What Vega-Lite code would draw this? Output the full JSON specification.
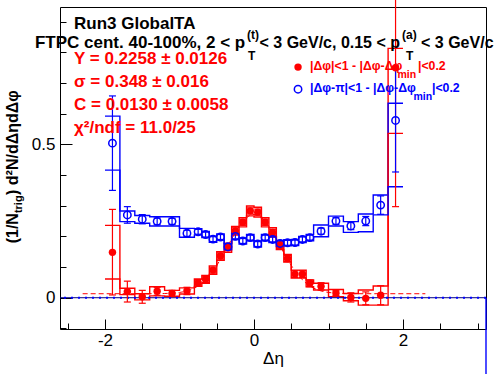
{
  "$schema": "https://vega.github.io/schema/vega-lite/v6.json",
  "width": 426,
  "height": 322,
  "autosize": {"type": "none"},
  "padding": {"left": 60, "top": 7, "right": 10, "bottom": 45},
  "background": "white",
  "config": {"view": {"stroke": "black", "strokeWidth": 1}, "font": "Liberation Sans"},
  "resolve": {"axis": {"x": "independent", "y": "independent"}},
  "datasets": {
    "points": [
      {"s": "same", "x": -1.9, "y": 0.148, "elo": 0.009, "ehi": 0.288},
      {"s": "same", "x": -1.7, "y": 0.020, "elo": -0.014, "ehi": 0.054},
      {"s": "same", "x": -1.5, "y": 0.003, "elo": -0.018, "ehi": 0.024},
      {"s": "same", "x": -1.3, "y": 0.021, "elo": 0.008, "ehi": 0.034},
      {"s": "same", "x": -1.1, "y": 0.014, "elo": 0.004, "ehi": 0.024},
      {"s": "same", "x": -0.9, "y": 0.022, "elo": 0.010, "ehi": 0.034},
      {"s": "same", "x": -0.75, "y": 0.049, "elo": 0.039, "ehi": 0.059},
      {"s": "same", "x": -0.65, "y": 0.060, "elo": 0.050, "ehi": 0.070},
      {"s": "same", "x": -0.55, "y": 0.090, "elo": 0.080, "ehi": 0.100},
      {"s": "same", "x": -0.45, "y": 0.136, "elo": 0.126, "ehi": 0.146},
      {"s": "same", "x": -0.35, "y": 0.163, "elo": 0.153, "ehi": 0.173},
      {"s": "same", "x": -0.25, "y": 0.218, "elo": 0.208, "ehi": 0.228},
      {"s": "same", "x": -0.15, "y": 0.246, "elo": 0.236, "ehi": 0.256},
      {"s": "same", "x": -0.05, "y": 0.283, "elo": 0.273, "ehi": 0.293},
      {"s": "same", "x": 0.05, "y": 0.279, "elo": 0.269, "ehi": 0.289},
      {"s": "same", "x": 0.15, "y": 0.246, "elo": 0.236, "ehi": 0.256},
      {"s": "same", "x": 0.25, "y": 0.213, "elo": 0.203, "ehi": 0.223},
      {"s": "same", "x": 0.35, "y": 0.171, "elo": 0.161, "ehi": 0.181},
      {"s": "same", "x": 0.45, "y": 0.128, "elo": 0.118, "ehi": 0.138},
      {"s": "same", "x": 0.55, "y": 0.077, "elo": 0.066, "ehi": 0.088},
      {"s": "same", "x": 0.65, "y": 0.077, "elo": 0.066, "ehi": 0.088},
      {"s": "same", "x": 0.75, "y": 0.047, "elo": 0.036, "ehi": 0.058},
      {"s": "same", "x": 0.9, "y": 0.037, "elo": 0.025, "ehi": 0.049},
      {"s": "same", "x": 1.1, "y": 0.015, "elo": 0.007, "ehi": 0.023},
      {"s": "same", "x": 1.3, "y": 0.001, "elo": -0.014, "ehi": 0.016},
      {"s": "same", "x": 1.5, "y": -0.002, "elo": -0.023, "ehi": 0.019},
      {"s": "same", "x": 1.7, "y": 0.008, "elo": -0.023, "ehi": 0.039},
      {"s": "same", "x": 1.9, "y": 0.750, "elo": 0.297, "ehi": 1.203},
      {"s": "opp", "x": -1.9, "y": 0.504, "elo": 0.350, "ehi": 0.658},
      {"s": "opp", "x": -1.7, "y": 0.270, "elo": 0.243, "ehi": 0.297},
      {"s": "opp", "x": -1.5, "y": 0.256, "elo": 0.241, "ehi": 0.271},
      {"s": "opp", "x": -1.3, "y": 0.249, "elo": 0.238, "ehi": 0.260},
      {"s": "opp", "x": -1.1, "y": 0.249, "elo": 0.239, "ehi": 0.259},
      {"s": "opp", "x": -0.9, "y": 0.210, "elo": 0.200, "ehi": 0.220},
      {"s": "opp", "x": -0.75, "y": 0.215, "elo": 0.207, "ehi": 0.223},
      {"s": "opp", "x": -0.65, "y": 0.206, "elo": 0.198, "ehi": 0.214},
      {"s": "opp", "x": -0.55, "y": 0.191, "elo": 0.183, "ehi": 0.199},
      {"s": "opp", "x": -0.45, "y": 0.198, "elo": 0.190, "ehi": 0.206},
      {"s": "opp", "x": -0.35, "y": 0.166, "elo": 0.158, "ehi": 0.174},
      {"s": "opp", "x": -0.25, "y": 0.200, "elo": 0.192, "ehi": 0.208},
      {"s": "opp", "x": -0.15, "y": 0.185, "elo": 0.177, "ehi": 0.193},
      {"s": "opp", "x": -0.05, "y": 0.196, "elo": 0.188, "ehi": 0.204},
      {"s": "opp", "x": 0.05, "y": 0.175, "elo": 0.167, "ehi": 0.183},
      {"s": "opp", "x": 0.15, "y": 0.196, "elo": 0.188, "ehi": 0.204},
      {"s": "opp", "x": 0.25, "y": 0.190, "elo": 0.182, "ehi": 0.198},
      {"s": "opp", "x": 0.35, "y": 0.177, "elo": 0.169, "ehi": 0.185},
      {"s": "opp", "x": 0.45, "y": 0.179, "elo": 0.171, "ehi": 0.187},
      {"s": "opp", "x": 0.55, "y": 0.180, "elo": 0.172, "ehi": 0.188},
      {"s": "opp", "x": 0.65, "y": 0.190, "elo": 0.182, "ehi": 0.198},
      {"s": "opp", "x": 0.75, "y": 0.196, "elo": 0.188, "ehi": 0.204},
      {"s": "opp", "x": 0.9, "y": 0.217, "elo": 0.207, "ehi": 0.227},
      {"s": "opp", "x": 1.1, "y": 0.250, "elo": 0.239, "ehi": 0.261},
      {"s": "opp", "x": 1.3, "y": 0.234, "elo": 0.222, "ehi": 0.246},
      {"s": "opp", "x": 1.5, "y": 0.250, "elo": 0.235, "ehi": 0.265},
      {"s": "opp", "x": 1.7, "y": 0.302, "elo": 0.272, "ehi": 0.332},
      {"s": "opp", "x": 1.9, "y": 0.578, "elo": 0.410, "ehi": 0.746}
    ],
    "syst": [
      {"s": "same", "edge": -2.0, "lo": 0.061, "hi": 0.236},
      {"s": "same", "edge": -1.8, "lo": 0.010, "hi": 0.031},
      {"s": "same", "edge": -1.6, "lo": -0.007, "hi": 0.013},
      {"s": "same", "edge": -1.4, "lo": 0.006, "hi": 0.036},
      {"s": "same", "edge": -1.2, "lo": 0.005, "hi": 0.024},
      {"s": "same", "edge": -1.0, "lo": 0.012, "hi": 0.032},
      {"s": "same", "edge": -0.8, "lo": 0.037, "hi": 0.061},
      {"s": "same", "edge": -0.7, "lo": 0.047, "hi": 0.073},
      {"s": "same", "edge": -0.6, "lo": 0.076, "hi": 0.104},
      {"s": "same", "edge": -0.5, "lo": 0.122, "hi": 0.150},
      {"s": "same", "edge": -0.4, "lo": 0.148, "hi": 0.178},
      {"s": "same", "edge": -0.3, "lo": 0.204, "hi": 0.232},
      {"s": "same", "edge": -0.2, "lo": 0.231, "hi": 0.261},
      {"s": "same", "edge": -0.1, "lo": 0.267, "hi": 0.299},
      {"s": "same", "edge": 0.0, "lo": 0.263, "hi": 0.295},
      {"s": "same", "edge": 0.1, "lo": 0.231, "hi": 0.261},
      {"s": "same", "edge": 0.2, "lo": 0.198, "hi": 0.228},
      {"s": "same", "edge": 0.3, "lo": 0.157, "hi": 0.185},
      {"s": "same", "edge": 0.4, "lo": 0.116, "hi": 0.141},
      {"s": "same", "edge": 0.5, "lo": 0.064, "hi": 0.090},
      {"s": "same", "edge": 0.6, "lo": 0.064, "hi": 0.090},
      {"s": "same", "edge": 0.7, "lo": 0.036, "hi": 0.058},
      {"s": "same", "edge": 0.8, "lo": 0.025, "hi": 0.047},
      {"s": "same", "edge": 1.0, "lo": 0.003, "hi": 0.027},
      {"s": "same", "edge": 1.2, "lo": -0.010, "hi": 0.014},
      {"s": "same", "edge": 1.4, "lo": -0.024, "hi": 0.025},
      {"s": "same", "edge": 1.6, "lo": -0.024, "hi": 0.038},
      {"s": "same", "edge": 1.8, "lo": 0.536, "hi": 0.813},
      {"s": "same", "edge": 2.0, "lo": 0.536, "hi": 0.813},
      {"s": "opp", "edge": -2.0, "lo": 0.416, "hi": 0.592},
      {"s": "opp", "edge": -1.8, "lo": 0.248, "hi": 0.283},
      {"s": "opp", "edge": -1.6, "lo": 0.243, "hi": 0.268},
      {"s": "opp", "edge": -1.4, "lo": 0.234, "hi": 0.264},
      {"s": "opp", "edge": -1.2, "lo": 0.234, "hi": 0.264},
      {"s": "opp", "edge": -1.0, "lo": 0.197, "hi": 0.226},
      {"s": "opp", "edge": -0.8, "lo": 0.205, "hi": 0.225},
      {"s": "opp", "edge": -0.7, "lo": 0.196, "hi": 0.216},
      {"s": "opp", "edge": -0.6, "lo": 0.181, "hi": 0.201},
      {"s": "opp", "edge": -0.5, "lo": 0.188, "hi": 0.208},
      {"s": "opp", "edge": -0.4, "lo": 0.156, "hi": 0.176},
      {"s": "opp", "edge": -0.3, "lo": 0.190, "hi": 0.210},
      {"s": "opp", "edge": -0.2, "lo": 0.175, "hi": 0.195},
      {"s": "opp", "edge": -0.1, "lo": 0.186, "hi": 0.206},
      {"s": "opp", "edge": 0.0, "lo": 0.165, "hi": 0.185},
      {"s": "opp", "edge": 0.1, "lo": 0.186, "hi": 0.206},
      {"s": "opp", "edge": 0.2, "lo": 0.180, "hi": 0.200},
      {"s": "opp", "edge": 0.3, "lo": 0.167, "hi": 0.187},
      {"s": "opp", "edge": 0.4, "lo": 0.169, "hi": 0.189},
      {"s": "opp", "edge": 0.5, "lo": 0.170, "hi": 0.190},
      {"s": "opp", "edge": 0.6, "lo": 0.180, "hi": 0.200},
      {"s": "opp", "edge": 0.7, "lo": 0.186, "hi": 0.206},
      {"s": "opp", "edge": 0.8, "lo": 0.199, "hi": 0.237},
      {"s": "opp", "edge": 1.0, "lo": 0.234, "hi": 0.266},
      {"s": "opp", "edge": 1.2, "lo": 0.213, "hi": 0.248},
      {"s": "opp", "edge": 1.4, "lo": 0.215, "hi": 0.273},
      {"s": "opp", "edge": 1.6, "lo": 0.270, "hi": 0.335},
      {"s": "opp", "edge": 1.8, "lo": 0.362, "hi": 0.634},
      {"s": "opp", "edge": 2.0, "lo": 0.362, "hi": 0.634}
    ],
    "fit": [
      {"x": -2.3, "y": 0.0130}, {"x": -1.4, "y": 0.0131}, {"x": -1.2, "y": 0.0137}, {"x": -1.1, "y": 0.0148},
      {"x": -1.0, "y": 0.0172}, {"x": -0.95, "y": 0.0192}, {"x": -0.9, "y": 0.0221}, {"x": -0.85, "y": 0.0261},
      {"x": -0.8, "y": 0.0314}, {"x": -0.75, "y": 0.0384}, {"x": -0.7, "y": 0.0472}, {"x": -0.65, "y": 0.0583},
      {"x": -0.6, "y": 0.0716}, {"x": -0.55, "y": 0.0872}, {"x": -0.5, "y": 0.1052}, {"x": -0.45, "y": 0.1252},
      {"x": -0.4, "y": 0.1467}, {"x": -0.35, "y": 0.1691}, {"x": -0.3, "y": 0.1915}, {"x": -0.25, "y": 0.2130},
      {"x": -0.2, "y": 0.2325}, {"x": -0.15, "y": 0.2489}, {"x": -0.1, "y": 0.2614}, {"x": -0.05, "y": 0.2692},
      {"x": 0.0, "y": 0.2719},
      {"x": 0.05, "y": 0.2692}, {"x": 0.1, "y": 0.2614}, {"x": 0.15, "y": 0.2489}, {"x": 0.2, "y": 0.2325},
      {"x": 0.25, "y": 0.2130}, {"x": 0.3, "y": 0.1915}, {"x": 0.35, "y": 0.1691}, {"x": 0.4, "y": 0.1467},
      {"x": 0.45, "y": 0.1252}, {"x": 0.5, "y": 0.1052}, {"x": 0.55, "y": 0.0872}, {"x": 0.6, "y": 0.0716},
      {"x": 0.65, "y": 0.0583}, {"x": 0.7, "y": 0.0472}, {"x": 0.75, "y": 0.0384}, {"x": 0.8, "y": 0.0314},
      {"x": 0.85, "y": 0.0261}, {"x": 0.9, "y": 0.0221}, {"x": 0.95, "y": 0.0192}, {"x": 1.0, "y": 0.0172},
      {"x": 1.1, "y": 0.0148}, {"x": 1.2, "y": 0.0137}, {"x": 1.4, "y": 0.0131}, {"x": 2.3, "y": 0.0130}
    ],
    "legpts": [
      {"s": "same", "x": 0.591, "y": 0.752},
      {"s": "opp", "x": 0.591, "y": 0.680}
    ],
    "labels": [
      {"role": "head", "x": -2.416, "y": 0.876, "t": "Run3 GlobalTA"},
      {"role": "head", "x": -2.94, "y": 0.814, "t": "FTPC cent. 40-100%, 2 < p"},
      {"role": "headr", "x": 1.96, "y": 0.814, "t": "< 3 GeV/c, 0.15 < p"},
      {"role": "headb", "x": 2.242, "y": 0.814, "t": "< 3 GeV/c"},
      {"role": "hsub", "x": -0.094, "y": 0.843, "t": "(t)"},
      {"role": "hsub", "x": -0.081, "y": 0.775, "t": "T"},
      {"role": "hsub", "x": 1.987, "y": 0.843, "t": "(a)"},
      {"role": "hsub", "x": 2.04, "y": 0.775, "t": "T"},
      {"role": "stat", "x": -2.416, "y": 0.762, "t": "Y = 0.2258 ± 0.0126"},
      {"role": "stat", "x": -2.416, "y": 0.687, "t": "σ = 0.348 ± 0.016"},
      {"role": "stat", "x": -2.416, "y": 0.612, "t": "C = 0.0130 ± 0.0058"},
      {"role": "stat", "x": -2.416, "y": 0.537, "t": "χ²/ndf = 11.0/25"},
      {"role": "legr", "x": 0.752, "y": 0.742, "t": "|Δφ|<1 - |Δφ-Δφ"},
      {"role": "legr", "x": 2.201, "y": 0.742, "t": "|<0.2"},
      {"role": "legb", "x": 0.752, "y": 0.670, "t": "|Δφ-π|<1 - |Δφ-Δφ"},
      {"role": "legb", "x": 2.389, "y": 0.670, "t": "|<0.2"},
      {"role": "lsubr", "x": 1.925, "y": 0.716, "t": "min"},
      {"role": "lsubb", "x": 2.14, "y": 0.644, "t": "min"},
      {"role": "ytr", "x": -3.168, "y": 0.276, "t": "(1/N"},
      {"role": "yts", "x": -3.114, "y": 0.276, "t": "trig"},
      {"role": "ytl", "x": -3.168, "y": 0.335, "t": ") d²N/dΔηdΔφ"}
    ]
  },
  "layer": [
    {
      "data": {"name": "syst"},
      "mark": {"type": "line", "interpolate": "step-after", "strokeWidth": 1.4},
      "encoding": {
        "x": {"field": "edge", "type": "quantitative", "scale": {"domain": [-2.604, 3.114], "nice": false, "zero": false},
              "axis": {"orient": "bottom", "values": [-2.5, -2, -1.5, -1, -0.5, 0, 0.5, 1, 1.5, 2, 2.5, 3], "tickSize": -6, "tickColor": "black", "labels": false, "domain": false, "grid": false, "title": null}},
        "y": {"field": "hi", "type": "quantitative", "scale": {"domain": [-0.102, 0.948], "nice": false, "zero": false},
              "axis": {"orient": "left", "values": [-0.1, 0, 0.1, 0.2, 0.3, 0.4, 0.5, 0.6, 0.7, 0.8, 0.9], "tickSize": -6, "tickColor": "black", "labels": false, "domain": false, "grid": false, "title": null}},
        "color": {"field": "s", "type": "nominal", "scale": {"domain": ["same", "opp"], "range": ["#ff0000", "#0000ff"]}, "legend": null}
      }
    },
    {
      "data": {"name": "syst"},
      "mark": {"type": "line", "interpolate": "step-after", "strokeWidth": 1.4},
      "encoding": {
        "x": {"field": "edge", "type": "quantitative", "scale": {"domain": [-2.604, 3.114], "nice": false, "zero": false}, "axis": null},
        "y": {"field": "lo", "type": "quantitative", "scale": {"domain": [-0.102, 0.948], "nice": false, "zero": false}, "axis": null},
        "color": {"field": "s", "type": "nominal", "scale": {"domain": ["same", "opp"], "range": ["#ff0000", "#0000ff"]}, "legend": null}
      }
    },
    {
      "data": {"name": "fit"},
      "mark": {"type": "line", "color": "#ff0000", "strokeWidth": 1, "strokeDash": [5, 3]},
      "encoding": {
        "x": {"field": "x", "type": "quantitative", "scale": {"domain": [-2.604, 3.114], "nice": false, "zero": false},
              "axis": {"orient": "bottom", "values": [-2, 0, 2], "tickSize": -10, "tickColor": "black", "labelPadding": 13, "labelFont": "Liberation Sans", "labelFontSize": 17, "labelColor": "black", "labelFlush": false, "labelOverlap": false, "format": "~g", "labelExpr": "replace(datum.label, '−', '-')", "domain": false, "grid": false, "title": "Δη", "titleFont": "Liberation Sans", "titleFontSize": 17, "titleFontWeight": "normal", "titleColor": "black", "titlePadding": 2}},
        "y": {"field": "y", "type": "quantitative", "scale": {"domain": [-0.102, 0.948], "nice": false, "zero": false},
              "axis": {"orient": "left", "values": [0, 0.5], "tickSize": -12, "tickColor": "black", "labelPadding": 17, "labelFont": "Liberation Sans", "labelFontSize": 17, "labelColor": "black", "labelFlush": false, "labelOverlap": false, "format": "~g", "domain": false, "grid": false, "title": null}}
      }
    },
    {
      "data": {"values": [{}]},
      "mark": {"type": "rule", "color": "#000080", "strokeWidth": 1},
      "encoding": {"y": {"datum": 0, "type": "quantitative", "scale": {"domain": [-0.102, 0.948], "nice": false, "zero": false}, "axis": null}}
    },
    {
      "data": {"values": [{}]},
      "mark": {"type": "rule", "color": "#0000ff", "strokeWidth": 2, "strokeDash": [2, 5]},
      "encoding": {"y": {"datum": 0, "type": "quantitative", "scale": {"domain": [-0.102, 0.948], "nice": false, "zero": false}, "axis": null}}
    },
    {
      "data": {"values": [{}]},
      "mark": {"type": "rule", "color": "#0000ff", "strokeWidth": 1.4},
      "encoding": {
        "x": {"datum": 3.114, "type": "quantitative", "scale": {"domain": [-2.604, 3.114], "nice": false, "zero": false}, "axis": null},
        "y": {"datum": 0, "type": "quantitative", "scale": {"domain": [-0.102, 0.948], "nice": false, "zero": false}, "axis": null},
        "y2": {"datum": -0.25}
      }
    },
    {
      "data": {"name": "points"},
      "mark": {"type": "rule", "strokeWidth": 1.2},
      "encoding": {
        "x": {"field": "x", "type": "quantitative", "scale": {"domain": [-2.604, 3.114], "nice": false, "zero": false}, "axis": null},
        "y": {"field": "elo", "type": "quantitative", "scale": {"domain": [-0.102, 0.948], "nice": false, "zero": false}, "axis": null},
        "y2": {"field": "ehi"},
        "color": {"field": "s", "type": "nominal", "scale": {"domain": ["same", "opp"], "range": ["#ff0000", "#0000ff"]}, "legend": null}
      }
    },
    {
      "data": {"name": "points"},
      "mark": {"type": "tick", "orient": "horizontal", "size": 7, "thickness": 1.2, "opacity": 1},
      "encoding": {
        "x": {"field": "x", "type": "quantitative", "scale": {"domain": [-2.604, 3.114], "nice": false, "zero": false}, "axis": null},
        "y": {"field": "elo", "type": "quantitative", "scale": {"domain": [-0.102, 0.948], "nice": false, "zero": false}, "axis": null},
        "color": {"field": "s", "type": "nominal", "scale": {"domain": ["same", "opp"], "range": ["#ff0000", "#0000ff"]}, "legend": null}
      }
    },
    {
      "data": {"name": "points"},
      "mark": {"type": "tick", "orient": "horizontal", "size": 7, "thickness": 1.2, "opacity": 1},
      "encoding": {
        "x": {"field": "x", "type": "quantitative", "scale": {"domain": [-2.604, 3.114], "nice": false, "zero": false}, "axis": null},
        "y": {"field": "ehi", "type": "quantitative", "scale": {"domain": [-0.102, 0.948], "nice": false, "zero": false}, "axis": null},
        "color": {"field": "s", "type": "nominal", "scale": {"domain": ["same", "opp"], "range": ["#ff0000", "#0000ff"]}, "legend": null}
      }
    },
    {
      "data": {"name": "points"},
      "transform": [{"filter": "datum.s === 'same'"}],
      "mark": {"type": "point", "shape": "circle", "filled": true, "size": 55, "color": "#ff0000", "opacity": 1},
      "encoding": {
        "x": {"field": "x", "type": "quantitative", "scale": {"domain": [-2.604, 3.114], "nice": false, "zero": false}, "axis": null},
        "y": {"field": "y", "type": "quantitative", "scale": {"domain": [-0.102, 0.948], "nice": false, "zero": false}, "axis": null}
      }
    },
    {
      "data": {"name": "points"},
      "transform": [{"filter": "datum.s === 'opp'"}],
      "mark": {"type": "point", "shape": "circle", "filled": false, "size": 55, "color": "#0000ff", "strokeWidth": 1.5, "opacity": 1},
      "encoding": {
        "x": {"field": "x", "type": "quantitative", "scale": {"domain": [-2.604, 3.114], "nice": false, "zero": false}, "axis": null},
        "y": {"field": "y", "type": "quantitative", "scale": {"domain": [-0.102, 0.948], "nice": false, "zero": false}, "axis": null}
      }
    },
    {
      "data": {"name": "legpts"},
      "transform": [{"filter": "datum.s === 'same'"}],
      "mark": {"type": "point", "shape": "circle", "filled": true, "size": 55, "color": "#ff0000", "opacity": 1},
      "encoding": {
        "x": {"field": "x", "type": "quantitative", "scale": {"domain": [-2.604, 3.114], "nice": false, "zero": false}, "axis": null},
        "y": {"field": "y", "type": "quantitative", "scale": {"domain": [-0.102, 0.948], "nice": false, "zero": false}, "axis": null}
      }
    },
    {
      "data": {"name": "legpts"},
      "transform": [{"filter": "datum.s === 'opp'"}],
      "mark": {"type": "point", "shape": "circle", "filled": false, "size": 55, "color": "#0000ff", "strokeWidth": 1.5, "opacity": 1},
      "encoding": {
        "x": {"field": "x", "type": "quantitative", "scale": {"domain": [-2.604, 3.114], "nice": false, "zero": false}, "axis": null},
        "y": {"field": "y", "type": "quantitative", "scale": {"domain": [-0.102, 0.948], "nice": false, "zero": false}, "axis": null}
      }
    },
    {
      "data": {"name": "labels"},
      "transform": [{"filter": "datum.role === 'head'"}],
      "mark": {"type": "text", "font": "Liberation Sans", "fontWeight": "bold", "fontSize": 17, "align": "left", "baseline": "alphabetic", "color": "black"},
      "encoding": {
        "x": {"field": "x", "type": "quantitative", "scale": {"domain": [-2.604, 3.114], "nice": false, "zero": false}, "axis": null},
        "y": {"field": "y", "type": "quantitative", "scale": {"domain": [-0.102, 0.948], "nice": false, "zero": false}, "axis": null},
        "text": {"field": "t"}
      }
    },
    {
      "data": {"name": "labels"},
      "transform": [{"filter": "datum.role === 'headr'"}],
      "mark": {"type": "text", "font": "Liberation Sans", "fontWeight": "bold", "fontSize": 16, "align": "right", "baseline": "alphabetic", "color": "black"},
      "encoding": {
        "x": {"field": "x", "type": "quantitative", "scale": {"domain": [-2.604, 3.114], "nice": false, "zero": false}, "axis": null},
        "y": {"field": "y", "type": "quantitative", "scale": {"domain": [-0.102, 0.948], "nice": false, "zero": false}, "axis": null},
        "text": {"field": "t"}
      }
    },
    {
      "data": {"name": "labels"},
      "transform": [{"filter": "datum.role === 'headb'"}],
      "mark": {"type": "text", "font": "Liberation Sans", "fontWeight": "bold", "fontSize": 16, "align": "left", "baseline": "alphabetic", "color": "black"},
      "encoding": {
        "x": {"field": "x", "type": "quantitative", "scale": {"domain": [-2.604, 3.114], "nice": false, "zero": false}, "axis": null},
        "y": {"field": "y", "type": "quantitative", "scale": {"domain": [-0.102, 0.948], "nice": false, "zero": false}, "axis": null},
        "text": {"field": "t"}
      }
    },
    {
      "data": {"name": "labels"},
      "transform": [{"filter": "datum.role === 'hsub'"}],
      "mark": {"type": "text", "font": "Liberation Sans", "fontWeight": "bold", "fontSize": 12, "align": "left", "baseline": "alphabetic", "color": "black"},
      "encoding": {
        "x": {"field": "x", "type": "quantitative", "scale": {"domain": [-2.604, 3.114], "nice": false, "zero": false}, "axis": null},
        "y": {"field": "y", "type": "quantitative", "scale": {"domain": [-0.102, 0.948], "nice": false, "zero": false}, "axis": null},
        "text": {"field": "t"}
      }
    },
    {
      "data": {"name": "labels"},
      "transform": [{"filter": "datum.role === 'stat'"}],
      "mark": {"type": "text", "font": "Liberation Sans", "fontWeight": "bold", "fontSize": 17, "align": "left", "baseline": "alphabetic", "color": "#ff0000"},
      "encoding": {
        "x": {"field": "x", "type": "quantitative", "scale": {"domain": [-2.604, 3.114], "nice": false, "zero": false}, "axis": null},
        "y": {"field": "y", "type": "quantitative", "scale": {"domain": [-0.102, 0.948], "nice": false, "zero": false}, "axis": null},
        "text": {"field": "t"}
      }
    },
    {
      "data": {"name": "labels"},
      "transform": [{"filter": "datum.role === 'legr'"}],
      "mark": {"type": "text", "font": "Liberation Sans", "fontWeight": "bold", "fontSize": 12.3, "align": "left", "baseline": "alphabetic", "color": "#ff0000"},
      "encoding": {
        "x": {"field": "x", "type": "quantitative", "scale": {"domain": [-2.604, 3.114], "nice": false, "zero": false}, "axis": null},
        "y": {"field": "y", "type": "quantitative", "scale": {"domain": [-0.102, 0.948], "nice": false, "zero": false}, "axis": null},
        "text": {"field": "t"}
      }
    },
    {
      "data": {"name": "labels"},
      "transform": [{"filter": "datum.role === 'legb'"}],
      "mark": {"type": "text", "font": "Liberation Sans", "fontWeight": "bold", "fontSize": 12.3, "align": "left", "baseline": "alphabetic", "color": "#0000ff"},
      "encoding": {
        "x": {"field": "x", "type": "quantitative", "scale": {"domain": [-2.604, 3.114], "nice": false, "zero": false}, "axis": null},
        "y": {"field": "y", "type": "quantitative", "scale": {"domain": [-0.102, 0.948], "nice": false, "zero": false}, "axis": null},
        "text": {"field": "t"}
      }
    },
    {
      "data": {"name": "labels"},
      "transform": [{"filter": "datum.role === 'lsubr'"}],
      "mark": {"type": "text", "font": "Liberation Sans", "fontWeight": "bold", "fontSize": 10.5, "align": "left", "baseline": "alphabetic", "color": "#ff0000"},
      "encoding": {
        "x": {"field": "x", "type": "quantitative", "scale": {"domain": [-2.604, 3.114], "nice": false, "zero": false}, "axis": null},
        "y": {"field": "y", "type": "quantitative", "scale": {"domain": [-0.102, 0.948], "nice": false, "zero": false}, "axis": null},
        "text": {"field": "t"}
      }
    },
    {
      "data": {"name": "labels"},
      "transform": [{"filter": "datum.role === 'lsubb'"}],
      "mark": {"type": "text", "font": "Liberation Sans", "fontWeight": "bold", "fontSize": 10.5, "align": "left", "baseline": "alphabetic", "color": "#0000ff"},
      "encoding": {
        "x": {"field": "x", "type": "quantitative", "scale": {"domain": [-2.604, 3.114], "nice": false, "zero": false}, "axis": null},
        "y": {"field": "y", "type": "quantitative", "scale": {"domain": [-0.102, 0.948], "nice": false, "zero": false}, "axis": null},
        "text": {"field": "t"}
      }
    },
    {
      "data": {"name": "labels"},
      "transform": [{"filter": "datum.role === 'ytr'"}],
      "mark": {"type": "text", "font": "Liberation Sans", "fontWeight": "bold", "fontSize": 16, "align": "right", "baseline": "alphabetic", "angle": 270, "color": "black"},
      "encoding": {
        "x": {"field": "x", "type": "quantitative", "scale": {"domain": [-2.604, 3.114], "nice": false, "zero": false}, "axis": null},
        "y": {"field": "y", "type": "quantitative", "scale": {"domain": [-0.102, 0.948], "nice": false, "zero": false}, "axis": null},
        "text": {"field": "t"}
      }
    },
    {
      "data": {"name": "labels"},
      "transform": [{"filter": "datum.role === 'yts'"}],
      "mark": {"type": "text", "font": "Liberation Sans", "fontWeight": "bold", "fontSize": 11, "align": "left", "baseline": "alphabetic", "angle": 270, "color": "black"},
      "encoding": {
        "x": {"field": "x", "type": "quantitative", "scale": {"domain": [-2.604, 3.114], "nice": false, "zero": false}, "axis": null},
        "y": {"field": "y", "type": "quantitative", "scale": {"domain": [-0.102, 0.948], "nice": false, "zero": false}, "axis": null},
        "text": {"field": "t"}
      }
    },
    {
      "data": {"name": "labels"},
      "transform": [{"filter": "datum.role === 'ytl'"}],
      "mark": {"type": "text", "font": "Liberation Sans", "fontWeight": "bold", "fontSize": 16, "align": "left", "baseline": "alphabetic", "angle": 270, "color": "black"},
      "encoding": {
        "x": {"field": "x", "type": "quantitative", "scale": {"domain": [-2.604, 3.114], "nice": false, "zero": false}, "axis": null},
        "y": {"field": "y", "type": "quantitative", "scale": {"domain": [-0.102, 0.948], "nice": false, "zero": false}, "axis": null},
        "text": {"field": "t"}
      }
    }
  ]
}
